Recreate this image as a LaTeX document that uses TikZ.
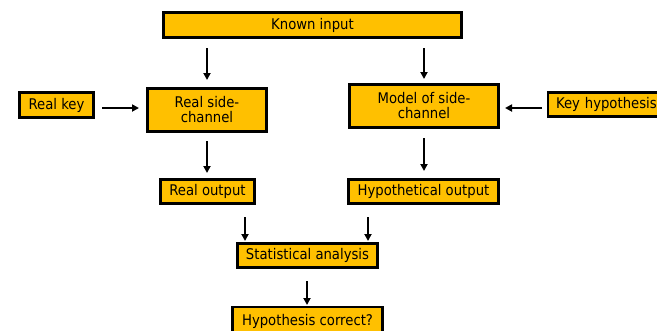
\documentclass[tikz,border=0pt]{standalone}
\usepackage{fontspec}
\setmainfont{DejaVu Sans Condensed}
\usetikzlibrary{arrows.meta}
\definecolor{boxfill}{HTML}{FFC000}
\tikzset{
  boxfont/.style={font=\fontsize{14.7}{15}\selectfont},
  flowbox/.style={draw=black, line width=2.2pt, fill=boxfill, inner sep=0pt,
    align=center, boxfont},
  flowarrow/.style={line width=1.9pt, -{Triangle[length=7pt,width=7pt]}}
}
\begin{document}
\begin{tikzpicture}[x=1pt,y=-1pt]
  \useasboundingbox (0,0) rectangle (657,330);
  \clip (0,0) rectangle (657,330);
  \fill[white] (0,0) rectangle (657,330);

  \node[flowbox, minimum width=298pt, minimum height=25pt] (known) at (312.5,25) {Known input};
  \node[flowbox, minimum width=74pt, minimum height=25pt] (rkey) at (56.5,105) {Real key};
  \node[flowbox, minimum width=119pt, minimum height=43pt] (real) at (207,110) {Real side-\\channel};
  \node[flowbox, minimum width=149pt, minimum height=43pt] (model) at (424,106) {Model of side-\\channel};
  \node[flowbox, minimum width=130pt, minimum height=24pt, anchor=west, inner xsep=8pt,
    text width=114pt, align=left] (khyp) at (547,104.5) {Key hypothesis};
  \node[flowbox, minimum width=94pt, minimum height=24pt] (rout) at (207.5,191.5) {Real output};
  \node[flowbox, minimum width=150pt, minimum height=24pt] (hout) at (423.5,191.5) {Hypothetical output};
  \node[flowbox, minimum width=140pt, minimum height=24pt] (stat) at (307.5,255.5) {Statistical analysis};
  \node[flowbox, minimum width=150pt, minimum height=30pt, anchor=north] (hcor) at (307.5,306) {};
  \node[boxfont, anchor=base] (hcortext) at (307.5,325) {Hypothesis correct?};

  \coordinate (a1s) at (207,48);   \coordinate (a1e) at (207,80);
  \coordinate (a2s) at (424,48);   \coordinate (a2e) at (424,79);
  \coordinate (a3s) at (102,108);  \coordinate (a3e) at (139,108);
  \coordinate (a4s) at (542,108);  \coordinate (a4e) at (505,108);
  \coordinate (a5s) at (207,141);  \coordinate (a5e) at (207,173);
  \coordinate (a6s) at (424,138);  \coordinate (a6e) at (424,171);
  \coordinate (a7s) at (245,217);  \coordinate (a7e) at (245,241);
  \coordinate (a8s) at (368,217);  \coordinate (a8e) at (368,241);
  \coordinate (a9s) at (307,281);  \coordinate (a9e) at (307,305);

  \draw[flowarrow] (a1s) -- (a1e);
  \draw[flowarrow] (a2s) -- (a2e);
  \draw[flowarrow] (a3s) -- (a3e);
  \draw[flowarrow] (a4s) -- (a4e);
  \draw[flowarrow] (a5s) -- (a5e);
  \draw[flowarrow] (a6s) -- (a6e);
  \draw[flowarrow] (a7s) -- (a7e);
  \draw[flowarrow] (a8s) -- (a8e);
  \draw[flowarrow] (a9s) -- (a9e);
\end{tikzpicture}
\end{document}
